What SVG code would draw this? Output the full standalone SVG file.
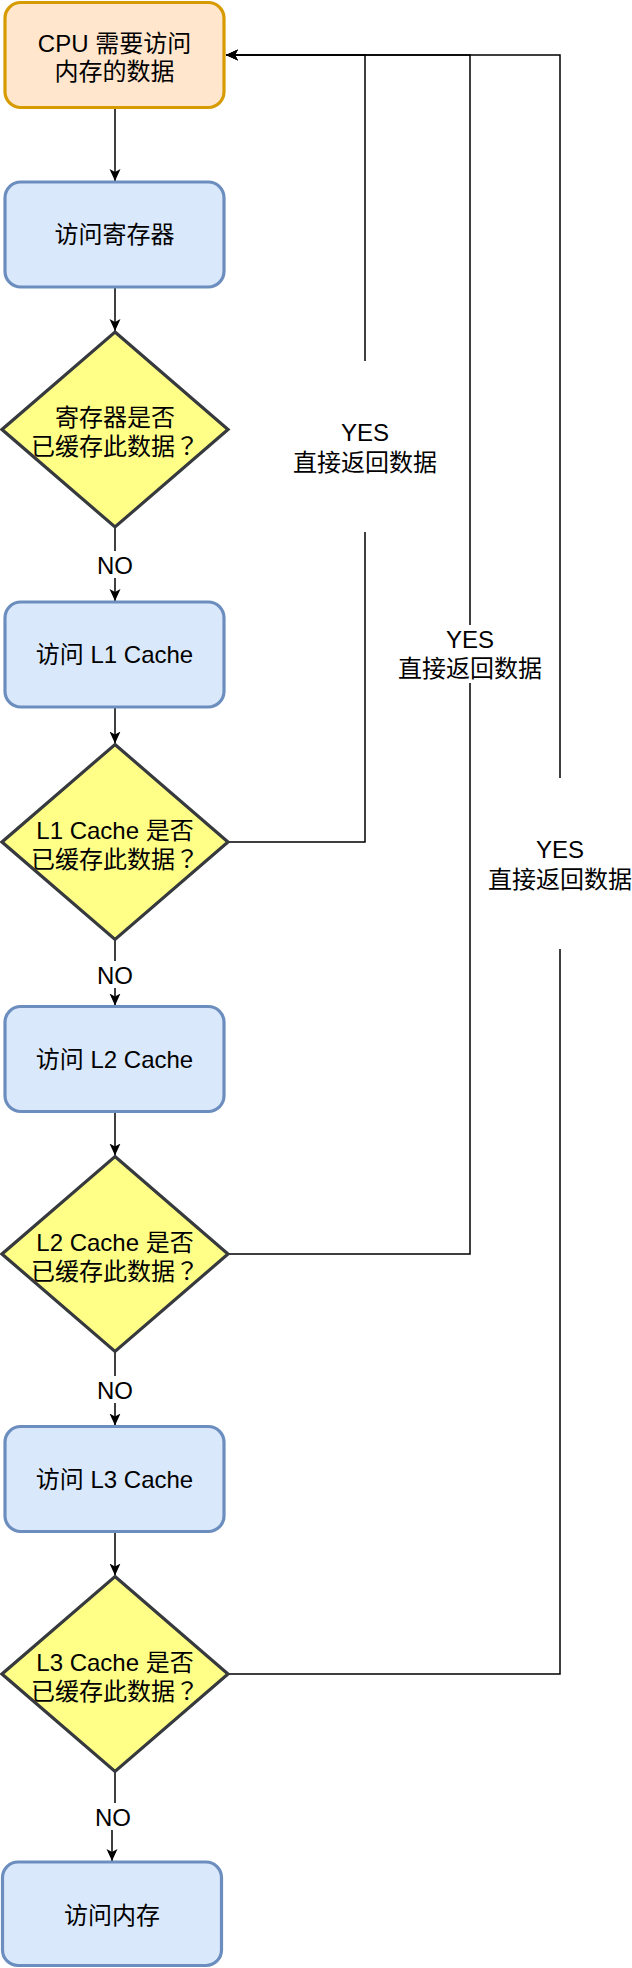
<svg xmlns="http://www.w3.org/2000/svg" width="632" height="1968" viewBox="0 0 632 1968">
<style>
text{font-family:"Liberation Sans","Noto Sans CJK SC",sans-serif;font-size:24px;text-anchor:middle;fill:#000}
.q{font-family:"Noto Sans CJK TC","Noto Sans CJK JP",sans-serif}
.start{fill:#ffe6cc;stroke:#d79b00;stroke-width:3.2}
.proc{fill:#dae8fc;stroke:#6c8ebf;stroke-width:3.2}
.dec{fill:#ffff88;stroke:#36393d;stroke-width:3.2;stroke-linejoin:miter}
.edge{fill:none;stroke:#000;stroke-width:1.5}
.lblbg{fill:#fff}
</style>
<defs>
<marker id="arr" markerUnits="userSpaceOnUse" markerWidth="14" markerHeight="12" refX="12" refY="6" orient="auto">
<path d="M0,0.5 L12,6 L0,11.5 L3,6 Z" fill="#000"/>
</marker>
</defs>

<g id="connectors">
<path class="edge" d="M115,107.5 V181" marker-end="url(#arr)"/>
<path class="edge" d="M115,287 V331" marker-end="url(#arr)"/>
<path class="edge" d="M115,527 V601" marker-end="url(#arr)"/>
<path class="edge" d="M115,707 V743.5" marker-end="url(#arr)"/>
<path class="edge" d="M115,939.5 V1005.5" marker-end="url(#arr)"/>
<path class="edge" d="M115,1111.5 V1155.5" marker-end="url(#arr)"/>
<path class="edge" d="M115,1351.5 V1425.5" marker-end="url(#arr)"/>
<path class="edge" d="M115,1531.5 V1575.5" marker-end="url(#arr)"/>
<path class="edge" d="M115,1771.5 V1817 H112 V1861" marker-end="url(#arr)"/>
<path class="edge" d="M228,842 H365 V532 M365,361 V55 H226" marker-end="url(#arr)"/>
<path class="edge" d="M228,1254 H470 V683 M470,625 V55 H226" marker-end="url(#arr)"/>
<path class="edge" d="M228,1674 H560 V949 M560,778 V55 H226" marker-end="url(#arr)"/>
<g id="labels">
<rect class="lblbg" x="96" y="551" width="38" height="27"/>
<text x="115" y="573.5">NO</text>
<rect class="lblbg" x="96" y="961" width="38" height="27"/>
<text x="115" y="983.5">NO</text>
<rect class="lblbg" x="96" y="1376" width="38" height="27"/>
<text x="115" y="1398.5">NO</text>
<rect class="lblbg" x="94" y="1803" width="38" height="27"/>
<text x="113" y="1825.5">NO</text>
<text x="365" y="440.5">YES</text>
<text x="365" y="471">直接返回数据</text>
<text x="470" y="647.5">YES</text>
<text x="470" y="677">直接返回数据</text>
<text x="560" y="858">YES</text>
<text x="560" y="887.5">直接返回数据</text>
</g>
</g>

<g id="cpu">
<rect class="start" x="5" y="2.5" width="219" height="105" rx="15.75"/>
<text x="114.5" y="52">CPU 需要访问</text>
<text x="114.5" y="79.5">内存的数据</text>
</g>
<g id="reg">
<rect class="proc" x="5" y="182" width="219" height="105" rx="15.75"/>
<text x="114.5" y="243">访问寄存器</text>
</g>
<g id="dec-reg">
<polygon class="dec" points="115,332 228,429.5 115,527 2,429.5"/>
<text x="115" y="426">寄存器是否</text>
<text x="115" y="455">已缓存此数据<tspan class="q">？</tspan></text>
</g>
<g id="l1">
<rect class="proc" x="5" y="602" width="219" height="105" rx="15.75"/>
<text x="114.5" y="663">访问 L1 Cache</text>
</g>
<g id="dec-l1">
<polygon class="dec" points="115,744.5 228,842 115,939.5 2,842"/>
<text x="115" y="838.5">L1 Cache 是否</text>
<text x="115" y="867.5">已缓存此数据<tspan class="q">？</tspan></text>
</g>
<g id="l2">
<rect class="proc" x="5" y="1006.5" width="219" height="105" rx="15.75"/>
<text x="114.5" y="1068">访问 L2 Cache</text>
</g>
<g id="dec-l2">
<polygon class="dec" points="115,1156.5 228,1254 115,1351.5 2,1254"/>
<text x="115" y="1250.5">L2 Cache 是否</text>
<text x="115" y="1279.5">已缓存此数据<tspan class="q">？</tspan></text>
</g>
<g id="l3">
<rect class="proc" x="5" y="1426.5" width="219" height="105" rx="15.75"/>
<text x="114.5" y="1488">访问 L3 Cache</text>
</g>
<g id="dec-l3">
<polygon class="dec" points="115,1576.5 228,1674 115,1771.5 2,1674"/>
<text x="115" y="1670.5">L3 Cache 是否</text>
<text x="115" y="1699.5">已缓存此数据<tspan class="q">？</tspan></text>
</g>
<g id="mem">
<rect class="proc" x="2.5" y="1862" width="219" height="103.5" rx="15.5"/>
<text x="112" y="1923.5">访问内存</text>
</g>
</svg>
